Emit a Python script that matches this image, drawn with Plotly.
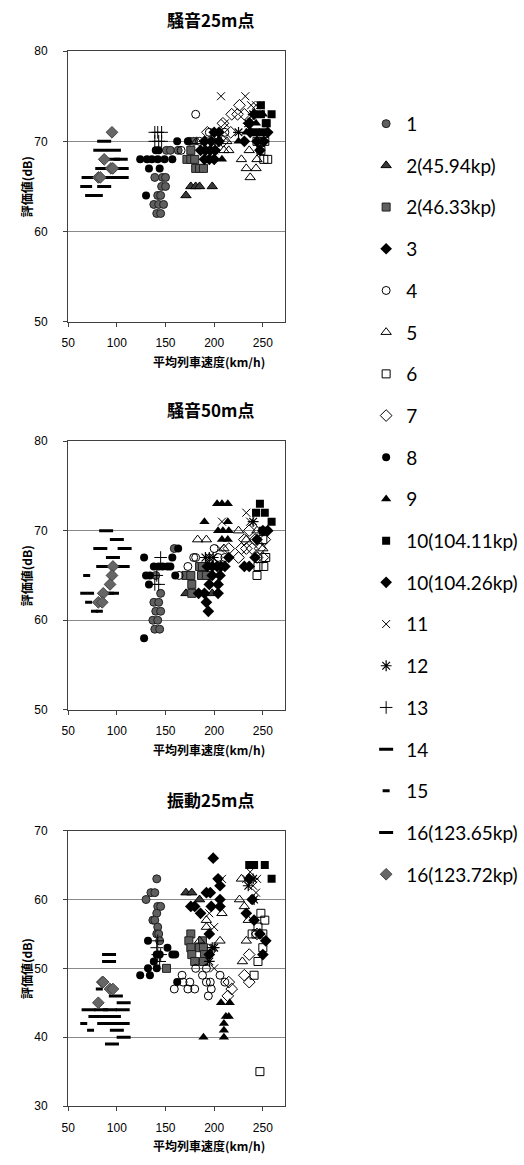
import plotly.graph_objects as go

W, H = 524, 1165

SERIES = ["1", "2(45.94kp)", "2(46.33kp)", "3", "4", "5", "6", "7", "8", "9",
          "10(104.11kp)", "10(104.26kp)", "11", "12", "13", "14", "15",
          "16(123.65kp)", "16(123.72kp)"]

# ---- 騒音25m点 : (speed km/h, level dB)
N25 = {
    "1": ([151, 155, 163, 175, 179, 139, 147, 150, 146, 150, 142, 145, 138, 143, 148, 141, 145],
          [69, 69, 69, 70, 70, 66, 66, 66, 65, 65, 64, 64, 63, 63, 63, 62, 62]),
    "2(45.94kp)": ([171, 176, 181, 185, 198], [64, 65, 65, 65, 65]),
    "2(46.33kp)": ([176, 172, 176, 180, 181, 185, 189], [69, 68, 68, 68, 67, 67, 67]),
    "3": ([186, 191, 196, 201, 190, 195, 200, 190, 197, 205, 200, 205],
          [69, 69, 69, 69, 68, 68, 68, 70, 70, 70, 71, 71]),
    "4": ([181, 166, 185, 195, 211], [73, 69, 70, 71, 71]),
    "5": ([182, 210, 215, 213, 228, 233, 237, 243, 244, 236], [70, 69, 69, 70, 68, 67, 66, 67, 68, 69]),
    "6": ([251, 255, 248, 252, 244], [68, 68, 69, 70, 70]),
    "7": ([218, 224, 231, 209, 217, 193, 236, 209, 226], [73, 73, 73, 72, 71, 71, 72, 70, 74]),
    "8": ([124, 131, 136, 142, 149, 157, 133, 144, 130, 140, 143, 162, 173],
          [68, 68, 68, 68, 68, 68, 67, 67, 64, 69, 69, 70, 70]),
    "9": ([208, 243, 250, 233, 225], [68, 72, 73, 71, 70]),
    "10(104.11kp)": ([259, 248, 253, 248, 243, 250, 254], [73, 73, 72, 74, 71, 71, 72]),
    "10(104.26kp)": ([231, 237, 244, 251, 247, 236, 241, 255], [70, 71, 70, 70, 69, 72, 73, 71]),
    "11": ([207, 232, 238, 243, 247, 211, 200], [75, 75, 74, 74, 74, 72, 69]),
    "12": ([240, 235, 225, 204], [73, 72, 71, 70]),
    "13": ([139, 142, 146, 139, 143, 146], [71, 71, 71, 70, 70, 70]),
    "14": ([87, 83, 97, 85, 71, 91, 87], [70, 69, 69, 67, 66, 66, 65]),
    "15": ([66, 71, 71, 77, 82], [65, 65, 64, 64, 64]),
    "16(123.65kp)": ([96, 104, 105, 105], [68, 68, 67, 66]),
    "16(123.72kp)": ([95, 87, 94, 96, 81, 83], [71, 68, 67, 67, 66, 66]),
}

# ---- 騒音50m点
N50 = {
    "1": ([159, 140, 145, 138, 143, 140, 145, 137, 142, 139, 144],
          [68, 65, 63, 62, 62, 61, 61, 60, 60, 59, 59]),
    "2(45.94kp)": ([171, 198], [63, 63]),
    "2(46.33kp)": ([171, 176, 177, 177, 185, 188, 187, 192], [65, 65, 64, 63, 66, 66, 65, 65]),
    "3": ([193, 198, 203, 207, 198, 206, 195, 204, 184, 190, 204, 192, 194, 211, 215],
          [66, 66, 66, 66, 65, 65, 64, 64, 63, 63, 63, 62, 61, 66, 67]),
    "4": ([200, 204, 211, 173, 164, 179, 181], [68, 67, 67, 66, 65, 67, 67]),
    "5": ([183, 192, 210, 233, 244, 250, 225], [69, 69, 68, 69, 70, 68, 70]),
    "6": ([245, 251, 244, 253, 250], [66, 66, 65, 67, 69]),
    "7": ([215, 228, 233, 239, 244, 250, 231, 242, 236, 247, 225, 252],
          [68, 68, 68, 68, 67, 67, 69, 69, 70, 68, 67, 69]),
    "8": ([163, 128, 157, 138, 143, 147, 152, 155, 130, 134, 160, 133, 128],
          [68, 67, 67, 66, 66, 66, 66, 66, 65, 65, 65, 64, 58]),
    "9": ([203, 208, 214, 190, 214, 204, 209, 215, 208, 214], [73, 73, 73, 71, 71, 70, 70, 70, 69, 69]),
    "10(104.11kp)": ([247, 243, 259, 250, 252], [73, 72, 71, 70, 72]),
    "10(104.26kp)": ([231, 236, 242, 250, 255, 244], [66, 66, 67, 70, 70, 69]),
    "11": ([208, 206, 233, 237], [71, 68, 72, 71]),
    "12": ([191, 195, 199, 240], [67, 67, 67, 71]),
    "13": ([145, 141, 139, 143], [67, 65, 64, 64]),
    "14": ([89, 100, 83, 108, 96, 86], [70, 69, 68, 68, 67, 66]),
    "15": ([69, 66, 73, 71, 77, 82], [65, 63, 63, 62, 61, 61]),
    "16(123.65kp)": ([100, 106, 90, 95], [66, 66, 63, 63]),
    "16(123.72kp)": ([96, 95, 93, 86, 81, 85], [66, 65, 64, 63, 62, 62]),
}

# ---- 振動25m点
V25 = {
    "1": ([141, 135, 139, 130, 142, 145, 141, 137, 139, 142, 141, 143, 144],
          [63, 61, 61, 60, 59, 59, 58, 57, 57, 56, 55, 55, 54]),
    "2(45.94kp)": ([171, 177, 185], [61, 61, 60]),
    "2(46.33kp)": ([176, 174, 176, 177, 180, 151, 188, 185, 189, 190, 189],
                   [55, 54, 53, 52, 51, 50, 54, 53, 53, 52, 51]),
    "3": ([192, 196, 176, 180, 186, 199, 204, 206, 206, 206, 197, 195, 195],
          [61, 61, 59, 59, 58, 66, 63, 62, 60, 59, 59, 55, 52]),
    "4": ([167, 159, 168, 175, 173, 180, 181, 188, 192, 196, 194, 192, 206, 211, 197],
          [49, 47, 48, 48, 47, 47, 50, 49, 48, 48, 46, 50, 49, 48, 47]),
    "5": ([192, 192, 208, 206, 185, 226, 231, 235, 228, 233, 229], [57, 56, 58, 54, 54, 60, 59, 57, 63, 54, 51]),
    "6": ([248, 245, 239, 243, 250, 245, 241, 247, 252, 250], [58, 56, 55, 55, 53, 51, 49, 35, 57, 55]),
    "7": ([214, 218, 215, 231, 236, 244, 236], [46, 47, 48, 49, 48, 55, 52]),
    "8": ([132, 124, 134, 141, 144, 152, 157, 160, 138, 132, 141, 162],
          [54, 49, 49, 52, 52, 53, 52, 52, 51, 50, 50, 48]),
    "9": ([207, 216, 212, 215, 210, 210, 210, 189], [45, 45, 43, 43, 42, 41, 40, 40]),
    "10(104.11kp)": ([236, 241, 252, 259], [65, 65, 65, 63]),
    "10(104.26kp)": ([247, 250, 253, 233, 239, 241, 236], [55, 52, 54, 58, 60, 57, 63]),
    "11": ([200, 200, 195, 208, 233, 237, 240, 243, 244], [56, 50, 58, 63, 63, 64, 62, 61, 63]),
    "12": ([198, 200, 195, 235, 240, 241], [53, 53, 51, 62, 63, 60]),
    "13": ([142, 141, 142, 145, 144], [54, 53, 52, 52, 51]),
    "14": ([92, 92, 71, 84, 93, 106, 99, 107], [52, 51, 44, 44, 44, 44, 46, 45]),
    "15": ([82, 66, 73], [47, 42, 41]),
    "16(123.65kp)": ([78, 85, 92, 97, 87, 96, 106, 100, 107, 95], [43, 43, 43, 43, 42, 42, 42, 41, 40, 39]),
    "16(123.72kp)": ([85, 86, 93, 96, 81], [48, 48, 47, 47, 45]),
}

TITLES = ["騒音25m点", "騒音50m点", "振動25m点"]
X_TITLE = "平均列車速度(km/h)"
Y_TITLE = "評価値(dB)"
X_TICKS = [50, 100, 150, 200, 250]
X_RANGE = [50, 273]
Y_RANGES = [[50, 80], [50, 80], [30, 70]]

# ---- styles
BLK = "#000000"
STYLE = {
    "1": dict(symbol="circle", size=8, color="#5f5f5f", line=dict(color="#202020", width=1)),
    "2(45.94kp)": dict(symbol="triangle-up", size=9, color="#3a3a3a", line=dict(color="#000", width=1)),
    "2(46.33kp)": dict(symbol="square", size=8, color="#5f5f5f", line=dict(color="#202020", width=1)),
    "3": dict(symbol="diamond", size=9, color=BLK, line=dict(width=0)),
    "4": dict(symbol="circle-open", size=8, color=BLK, line=dict(color=BLK, width=1)),
    "5": dict(symbol="triangle-up-open", size=9, color=BLK, line=dict(color=BLK, width=1)),
    "6": dict(symbol="square-open", size=8, color=BLK, line=dict(color=BLK, width=1)),
    "7": dict(symbol="diamond-open", size=9, color=BLK, line=dict(color=BLK, width=1)),
    "8": dict(symbol="circle", size=8, color=BLK, line=dict(width=0)),
    "9": dict(symbol="triangle-up", size=9, color=BLK, line=dict(width=0)),
    "10(104.11kp)": dict(symbol="square", size=8, color=BLK, line=dict(width=0)),
    "10(104.26kp)": dict(symbol="diamond", size=9, color=BLK, line=dict(width=0)),
    "11": dict(symbol="x-thin-open", size=8, color=BLK, line=dict(color=BLK, width=1)),
    "12": dict(symbol="asterisk-open", size=9, color=BLK, line=dict(color=BLK, width=1.2)),
    "13": dict(symbol="cross-thin-open", size=9, color=BLK, line=dict(color=BLK, width=1)),
    "14": dict(symbol="line-ew-open", size=10, color=BLK, line=dict(color=BLK, width=3)),
    "15": dict(symbol="line-ew-open", size=5, color=BLK, line=dict(color=BLK, width=3)),
    "16(123.65kp)": dict(symbol="line-ew-open", size=10, color=BLK, line=dict(color=BLK, width=3)),
    "16(123.72kp)": dict(symbol="diamond", size=9, color="#666666", line=dict(color="#444444", width=1)),
}

# panel pixel geometry (top, bottom of plot area)
PANELS = [(44.7, 318.5), (439.3, 711.4), (833.7, 1112.4)]
X_LEFT, X_RIGHT = 62, 282

fx = lambda px: px / W
fy = lambda py: 1 - py / H

fig = go.Figure()
for p, data in enumerate([N25, N50, V25]):
    ax = "" if p == 0 else str(p + 1)
    for s in SERIES:
        if s not in data:
            continue
        xs, ys = data[s]
        fig.add_trace(go.Scatter(
            x=xs, y=ys, mode="markers", name=s, legendgroup=s,
            showlegend=(p == 0), marker=STYLE[s],
            xaxis="x" + ax, yaxis="y" + ax,
        ))

layout = dict(
    width=W, height=H, margin=dict(l=0, r=0, t=0, b=0),
    paper_bgcolor="white", plot_bgcolor="white",
    font=dict(family="Liberation Sans, Arial, sans-serif", size=12, color="#000"),
    legend=dict(x=fx(364), xanchor="left", y=fy(99), yanchor="top",
                font=dict(family="Lato, Noto Sans, sans-serif", size=19, color="#000"),
                tracegroupgap=14, bgcolor="rgba(0,0,0,0)", borderwidth=0),
)
annotations = []
for p, (top, bot) in enumerate(PANELS):
    ax = "" if p == 0 else str(p + 1)
    layout["xaxis" + ax] = dict(
        domain=[fx(X_LEFT), fx(X_RIGHT)], range=X_RANGE, tickvals=X_TICKS,
        anchor="y" + ax, showgrid=False, zeroline=False,
        showline=True, mirror=True, linecolor="#404040", linewidth=1.2,
        ticks="outside", ticklen=4, tickcolor="#404040", ticklabelstandoff=6,
        tickfont=dict(size=12),
    )
    layout["yaxis" + ax] = dict(
        domain=[fy(bot), fy(top)], range=Y_RANGES[p], dtick=10,
        anchor="x" + ax, showgrid=True, gridcolor="#8a8a8a", gridwidth=1,
        zeroline=False, showline=True, mirror=True, linecolor="#404040", linewidth=1.2,
        ticks="outside", ticklen=4, tickcolor="#404040", ticklabelstandoff=13,
        tickfont=dict(size=12),
    )
    common = dict(xref="paper", yref="paper", showarrow=False, xanchor="center", yanchor="middle")
    annotations.append(dict(text="<b>" + TITLES[p] + "</b>", x=fx(206), y=fy(top - 32),
                            font=dict(family="Noto Sans CJK JP", size=17), **common))
    annotations.append(dict(text="<b>" + X_TITLE + "</b>", x=fx(205), y=fy(bot + 40),
                            font=dict(family="Noto Sans CJK JP", size=12), **common))
    annotations.append(dict(text="<b>" + Y_TITLE + "</b>", x=fx(20), y=fy((top + bot) / 2),
                            textangle=-90, font=dict(family="Noto Sans CJK JP", size=12), **common))
layout["annotations"] = annotations
fig.update_layout(**layout)
fig.write_html("out.html", config={"displayModeBar": False},
               post_script="document.body.style.margin='0px';")
